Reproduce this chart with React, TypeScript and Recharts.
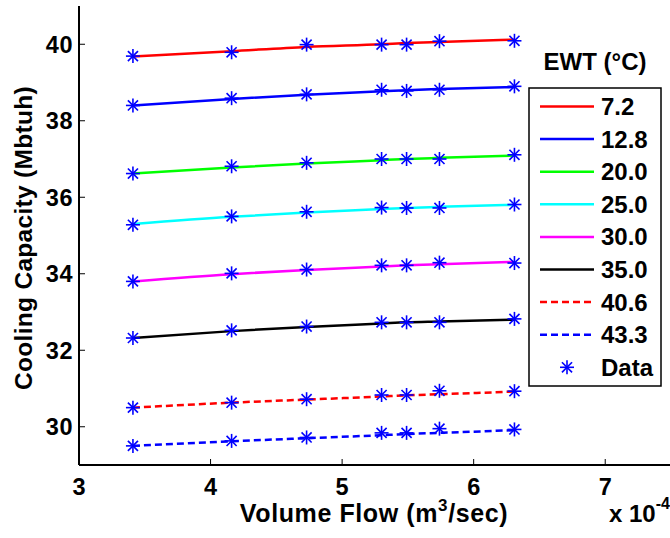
import { ComposedChart, Line, XAxis, YAxis } from 'recharts';

// volume flow, x 10^-4 m3/sec
const flow = [3.41, 4.16, 4.73, 5.3, 5.49, 5.74, 6.31];

const ewt = ['7.2', '12.8', '20.0', '25.0', '30.0', '35.0', '40.6', '43.3'];
const colors = ['#ff0000', '#0000ff', '#00ff00', '#00ffff', '#ff00ff', '#000000', '#ff0000', '#0000ff'];
const dashed = [false, false, false, false, false, false, true, true];

// fitted curves
const fit72 = [39.68, 39.82, 39.93, 40.0, 40.03, 40.06, 40.12];
const fit128 = [38.4, 38.57, 38.68, 38.77, 38.8, 38.83, 38.88];
const fit200 = [36.62, 36.78, 36.88, 36.97, 37.0, 37.03, 37.09];
const fit250 = [35.3, 35.49, 35.6, 35.69, 35.72, 35.75, 35.8];
const fit300 = [33.8, 33.99, 34.1, 34.19, 34.22, 34.25, 34.31];
const fit350 = [32.32, 32.5, 32.61, 32.7, 32.73, 32.75, 32.8];
const fit406 = [30.5, 30.63, 30.71, 30.79, 30.82, 30.85, 30.92];
const fit433 = [29.5, 29.62, 29.7, 29.78, 29.81, 29.84, 29.91];

// measured points
const data72 = [39.69, 39.79, 39.99, 39.99, 39.99, 40.08, 40.09];
const data128 = [38.4, 38.59, 38.69, 38.81, 38.78, 38.81, 38.9];
const data200 = [36.62, 36.81, 36.9, 37.0, 37.0, 37.0, 37.11];
const data250 = [35.28, 35.5, 35.62, 35.73, 35.72, 35.72, 35.81];
const data300 = [33.8, 34.01, 34.11, 34.22, 34.22, 34.29, 34.28];
const data350 = [32.32, 32.52, 32.62, 32.73, 32.73, 32.73, 32.82];
const data406 = [30.5, 30.63, 30.72, 30.83, 30.83, 30.94, 30.93];
const data433 = [29.5, 29.63, 29.72, 29.84, 29.84, 29.95, 29.93];

const xTicks = [3, 4, 5, 6, 7];
const yTicks = [30, 32, 34, 36, 38, 40];

const fits = [fit72, fit128, fit200, fit250, fit300, fit350, fit406, fit433];
const measured = [data72, data128, data200, data250, data300, data350, data406, data433];

const rows = flow.map((x, i) => {
  const r: Record<string, number> = { x };
  fits.forEach((f, k) => (r['f' + k] = f[i]));
  measured.forEach((d, k) => (r['d' + k] = d[i]));
  return r;
});

const FONT = '"Liberation Sans", Arial, sans-serif';
const TICK = 6;

function Star({ cx, cy, r = 7 }: { cx: number; cy: number; r?: number }) {
  const d = r * 0.72;
  return (
    <g stroke="#0000ff" strokeWidth={1.6}>
      <line x1={cx} y1={cy - r} x2={cx} y2={cy + r} />
      <line x1={cx - r} y1={cy} x2={cx + r} y2={cy} />
      <line x1={cx - d} y1={cy - d} x2={cx + d} y2={cy + d} />
      <line x1={cx - d} y1={cy + d} x2={cx + d} y2={cy - d} />
    </g>
  );
}

const BottomTick = (p: any) => (
  <g>
    <line x1={p.x} y1={p.y - 13} x2={p.x} y2={p.y - 13 - TICK} stroke="#000" />
    <text x={p.x} y={p.y} dy="0.71em" textAnchor="middle" fontSize={23.5} fontWeight="bold" fontFamily={FONT} fill="#000">
      {p.payload.value}
    </text>
  </g>
);

const LeftTick = (p: any) => (
  <g>
    <line x1={p.x + 6} y1={p.y} x2={p.x + 6 + TICK} y2={p.y} stroke="#000" />
    <text x={p.x} y={p.y} dy="0.355em" textAnchor="end" fontSize={23.5} fontWeight="bold" fontFamily={FONT} fill="#000" letterSpacing={0.5}>
      {p.payload.value}
    </text>
  </g>
);

const TopTick = (p: any) => <line x1={p.x} y1={p.y} x2={p.x} y2={p.y + TICK} stroke="#000" />;
const RightTick = (p: any) => <line x1={p.x} y1={p.y} x2={p.x - TICK} y2={p.y} stroke="#000" />;

export default function App() {
  const axisLine = { stroke: '#000', strokeWidth: 2 };
  return (
    <div style={{ position: 'absolute', left: 0, top: 0, width: 670, height: 538, overflow: 'hidden', background: '#fff' }}>
      <ComposedChart width={672} height={538} data={rows} margin={{ top: 6, right: 1, bottom: 0, left: 0 }}>
        <XAxis
          dataKey="x"
          type="number"
          domain={[3, 7.5]}
          ticks={xTicks}
          height={73}
          tickSize={0}
          tickMargin={13}
          axisLine={axisLine}
          tick={BottomTick}
          allowDataOverflow
        />
        <XAxis
          xAxisId="top"
          dataKey="x"
          type="number"
          orientation="top"
          domain={[3, 7.5]}
          ticks={xTicks}
          height={0}
          tickSize={0}
          axisLine={{ stroke: '#000', strokeWidth: 1.5 }}
          tick={TopTick}
          allowDataOverflow
        />
        <YAxis
          type="number"
          domain={[29, 41]}
          ticks={yTicks}
          width={79}
          tickSize={0}
          tickMargin={6}
          axisLine={axisLine}
          tick={LeftTick}
          allowDataOverflow
        />
        <YAxis
          yAxisId="right"
          orientation="right"
          type="number"
          domain={[29, 41]}
          ticks={yTicks}
          width={0}
          tickSize={0}
          axisLine={axisLine}
          tick={RightTick}
          allowDataOverflow
        />
        {ewt.map((name, k) => (
          <Line
            key={'f' + k}
            dataKey={'f' + k}
            type="monotone"
            stroke={colors[k]}
            strokeWidth={2.5}
            strokeDasharray={dashed[k] ? '7 4' : undefined}
            dot={false}
            isAnimationActive={false}
          />
        ))}
        {ewt.map((name, k) => (
          <Line
            key={'d' + k}
            dataKey={'d' + k}
            stroke="none"
            dot={(p: any) => <Star key={'s' + k + '-' + p.index} cx={p.cx} cy={p.cy} />}
            activeDot={false}
            isAnimationActive={false}
          />
        ))}
      </ComposedChart>

      <svg width={670} height={538} style={{ position: 'absolute', left: 0, top: 0, pointerEvents: 'none' }} fontFamily={FONT} fontWeight="bold">
        <text x={32} y={238} transform="rotate(-90 32 238)" textAnchor="middle" fontSize={24.5} letterSpacing={0.3} fill="#000">
          Cooling Capacity (Mbtuh)
        </text>
        <text x={374} y={522} textAnchor="middle" fontSize={25} letterSpacing={0.6} fill="#000">
          Volume Flow (m<tspan fontSize={17} dy={-11}>3</tspan>
          <tspan dy={11}>/sec)</tspan>
        </text>
        <text x={609} y={522} fontSize={24} fill="#000">
          x 10<tspan fontSize={16} dy={-13}>-4</tspan>
        </text>

        <text x={595} y={70} textAnchor="middle" fontSize={24} fill="#000">
          EWT (°C)
        </text>
        <rect x={529} y={88} width={132} height={298} fill="#fff" stroke="#000" strokeWidth={1.5} />
        {ewt.map((name, k) => {
          const cy = 106.5 + k * 32.6;
          return (
            <g key={name}>
              <line x1={540} y1={cy} x2={594} y2={cy} stroke={colors[k]} strokeWidth={2.5} strokeDasharray={dashed[k] ? '7 4' : undefined} />
              <text x={601} y={cy} dy="0.355em" fontSize={24} fill="#000">
                {name}
              </text>
            </g>
          );
        })}
        <Star cx={567} cy={106.5 + 8 * 32.6} />
        <text x={601} y={106.5 + 8 * 32.6} dy="0.355em" fontSize={24} fill="#000">
          Data
        </text>
      </svg>
    </div>
  );
}
